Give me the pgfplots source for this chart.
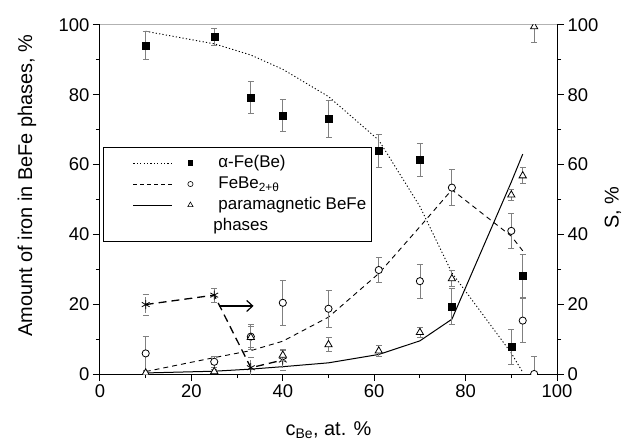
\documentclass[border=0pt]{standalone}
\usepackage{fontspec}
\setmainfont{Liberation Sans}
\usepackage{pgfplots}
\usepackage{pgfplotstable}
\pgfplotsset{compat=1.18}
\usetikzlibrary{arrows.meta}

\pgfplotstableread{
x y e
10 94.2 4
25 96.6 2.4
33 79.3 4.5
40 74.1 4.6
50 73.1 5.3
61 63.9 4.7
70 61.4 4.8
77 19.4 5.2
90 7.8 5.0
92.5 28.1 6.2
}\alphaFe

\pgfplotstableread{
x y e
10 5.9 5
25 3.5 1.5
33 10.7 3.6
40 20.4 6.5
50 18.7 5.3
61 29.8 3.5
70 26.6 4.9
77 53.4 5.1
90 41 5
92.5 15.3 6.3
95 0 5
}\febe

\pgfplotstableread{
x y e
10 0.3 0.4
25 0.7 0.6
33 10.5 3
40 5.4 1.5
50 8.4 2
61 6.6 1.7
70 11.9 1.5
77 27.3 2.3
90 51.3 1.7
92.5 56.8 2.3
95 99.5 4.5
}\para

\pgfplotstableread{
x y e
10 19.9 3
25 22.6 2
33 1.8 3
40 4.0 3
}\sval

\pgfplotstableread{
x y
10 98.2
25 94.6
33 91.4
40 87.3
50 79.5
61 67
70 48
77 29
90 6
92.5 0.5
}\fitA

\pgfplotstableread{
x y
10 0.7
25 4.7
33 6.7
40 9.4
50 16.3
61 28.8
70 42.2
77 52.8
90 39.5
92.5 35.3
}\fitB

\pgfplotstableread{
x y
10 0.3
25 0.8
33 1.4
40 2.1
50 3.2
61 5.6
70 9.5
77 15.7
90 55
92.5 63
}\fitC

\begin{document}
\begin{tikzpicture}
\pgfplotsset{
  every axis/.append style={
    scale only axis, width=457bp, height=349bp,
    xmin=0, xmax=100, ymin=0, ymax=100,
    tick align=outside,
    major tick length=7bp, minor tick length=4bp,
    every tick/.style={black, line width=1bp},
    axis line style={line width=1bp, black},
    ticklabel style={font=\fontsize{18.5}{22}\selectfont},
    /pgf/number format/assume math mode=true,
    label style={font=\fontsize{20}{24}\selectfont},
  },
  errstyle/.style={
    error bars/y dir=both, error bars/y explicit,
    error bars/error mark=|,
    error bars/error bar style={gray, line width=0.8bp},
    error bars/error mark options={gray, line width=0.8bp, mark size=3bp}},
}
\begin{axis}[
  name=main,
  clip marker paths=true,
  axis x line*=bottom, axis y line*=left,
  xtick={0,20,...,100}, ytick={0,20,...,100},
  minor x tick num=1, minor y tick num=1,
  xlabel={c\textsubscript{Be}, at. \%},
  ylabel={Amount of iron in BeFe phases, \%},
  xlabel style={at={(axis description cs:0.5,-0.16)}, anchor=center},
  ylabel style={at={(axis description cs:-0.16,0.54)}, anchor=center},
  legend style={at={(axis description cs:0.0066,0.650)}, anchor=north west,
    draw=black, line width=0.8bp, font=\fontsize{17}{20}\selectfont,
    inner xsep=4bp, inner ysep=5bp, row sep=0bp,
    nodes={text height=14bp, text depth=5bp, inner sep=1bp}},
  legend cell align=left,
  legend image code/.code={
    \draw[#1, mark=none] (0bp,0bp) -- (39bp,0bp);
    \draw[#1] plot coordinates {(57bp,0bp)};
    \path[draw=none, fill=none] (-26bp,-1bp) rectangle (84bp,1bp);
  },
]
\draw[gray!60, line width=1bp] (rel axis cs:0,1) -- (rel axis cs:1,1);

% fitted curves
\addplot[black, line width=0.9bp, dash pattern=on 1.2bp off 2.2bp, mark=none, forget plot] table[x=x,y=y] {\fitA};
\addplot[black, line width=0.9bp, dash pattern=on 5bp off 4bp, mark=none, forget plot] table[x=x,y=y] {\fitB};
\addplot[black, line width=1bp, mark=none, forget plot] table[x=x,y=y] {\fitC};

% S series (asterisks)
\addplot[black, line width=1.3bp, dash pattern=on 8bp off 5bp, mark=asterisk, mark size=4.5bp,
  mark options={solid, line width=0.8bp}, forget plot, errstyle]
  table[x=x,y=y,y error=e] {\sval};

% data points
\addplot[only marks, mark=square*, mark size=3.5bp, mark options={fill=black, draw=black}, forget plot, errstyle]
  table[x=x,y=y,y error=e] {\alphaFe};
\addplot[only marks, mark=*, mark size=3.6bp, mark options={fill=white, draw=black, line width=0.8bp}, forget plot, errstyle]
  table[x=x,y=y,y error=e] {\febe};
\addplot[only marks, mark=triangle*, mark size=4.2bp, mark options={fill=white, draw=black, line width=0.8bp}, forget plot, errstyle]
  table[x=x,y=y,y error=e] {\para};

\draw[line width=1.2bp, -{Straight Barb[length=6bp,width=11bp]}] (axis cs:26,19.5) -- (axis cs:33.6,19.5);

% legend
\addlegendimage{black, line width=0.8bp, dash pattern=on 1.2bp off 2.2bp, mark=square*, mark size=2.4bp, mark options={solid, fill=black}}
\addlegendentry{α-Fe(Be)}
\addlegendimage{black, line width=0.8bp, dash pattern=on 4bp off 3bp, mark=o, mark size=2.6bp, mark options={solid, line width=0.6bp}}
\addlegendentry{FeBe\textsubscript{2+θ}}
\addlegendimage{black, line width=0.9bp, mark=triangle, mark size=3bp, mark options={solid, line width=0.6bp}}
\addlegendentry{paramagnetic BeFe}
\addlegendimage{empty legend}
\addlegendentry{\hspace*{-5bp}phases}
\end{axis}

\begin{axis}[
  axis y line*=right, axis x line=none,
  ytick={0,20,...,100}, minor y tick num=1,
  ylabel={S, \%},
  ylabel style={at={(axis description cs:1.1225,0.476)}, anchor=center},
]
\addplot[draw=none, mark=none] coordinates {(0,0)};
\end{axis}

\pgfresetboundingbox
\path[use as bounding box] ([shift={(-100bp,-70bp)}]main.south west) rectangle ([shift={(522bp,374bp)}]main.south west);
\end{tikzpicture}
\end{document}
